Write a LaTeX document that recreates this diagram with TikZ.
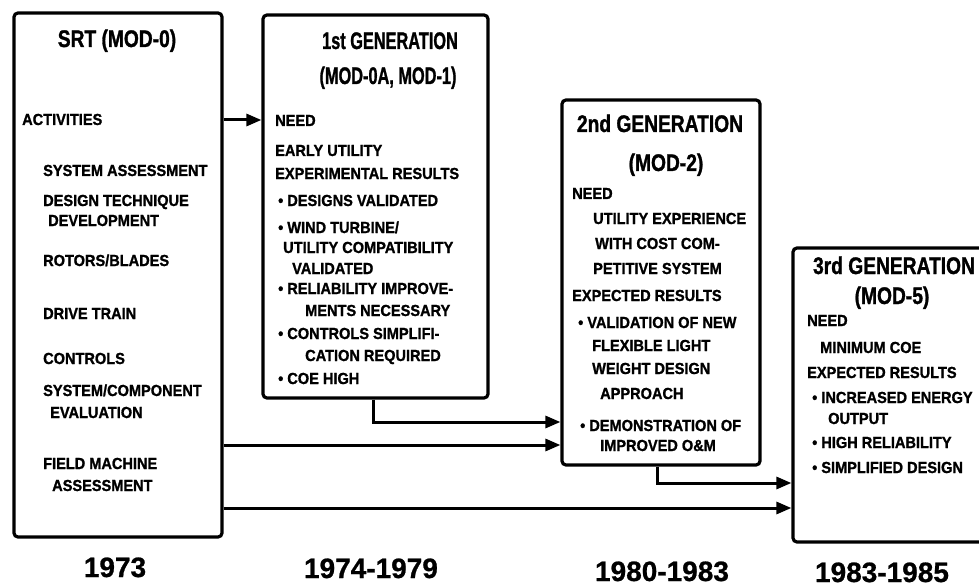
\documentclass[tikz,border=0pt]{standalone}
\usepackage{fontspec}
\setmainfont{Liberation Sans}[FakeStretch=0.91, BoldFeatures={FakeBold=1.2}]
\newfontfamily\titlefont{Liberation Sans}[FakeStretch=0.8, BoldFeatures={FakeBold=1.2}]
\newfontfamily\yearfont{Liberation Sans}[BoldFeatures={FakeBold=0.8}]
\usetikzlibrary{arrows.meta}
\begin{document}
\begin{tikzpicture}[x=1pt,y=-1pt,
  box/.style={draw, line width=3.2pt, rounded corners=4pt, inner sep=0pt},
  ln/.style={anchor=base west, inner sep=0pt, font=\fontsize{16}{18}\selectfont\bfseries},
  ttl/.style={anchor=base, inner sep=0pt, font=\titlefont\fontsize{24}{26}\selectfont\bfseries},
  yr/.style={anchor=base, inner sep=0pt, font=\yearfont\fontsize{28}{30}\selectfont\bfseries},
  arr/.style={line width=3pt, -{Triangle[length=15pt,width=12pt]}}]
\useasboundingbox (0,0) rectangle (979,588);
% boxes
\node[box, minimum width=208pt, minimum height=524pt] (srt) at (118,275) {};
\node[box, minimum width=225pt, minimum height=383pt] (g1) at (375.5,206.5) {};
\node[box, minimum width=198pt, minimum height=365pt] (g2) at (661,282.5) {};
\node[box, minimum width=197pt, minimum height=294pt] (g3) at (891.5,395) {};
% SRT
\node[ttl] (st) at (117,47) {SRT (MOD-0)};
\node[ln] (s1) at (22,125) {ACTIVITIES};
\node[ln] (s2) at (43,176) {SYSTEM ASSESSMENT};
\node[ln] (s3) at (43,206) {DESIGN TECHNIQUE};
\node[ln] (s4) at (48,226) {DEVELOPMENT};
\node[ln] (s5) at (43,266) {ROTORS/BLADES};
\node[ln] (s6) at (43,319) {DRIVE TRAIN};
\node[ln] (s7) at (43,364) {CONTROLS};
\node[ln] (s8) at (43,396) {SYSTEM/COMPONENT};
\node[ln] (s9) at (50,418) {EVALUATION};
\node[ln] (s10) at (43,469) {FIELD MACHINE};
\node[ln] (s11) at (52,491) {ASSESSMENT};
% 1st generation
\node[ttl] (at1) at (390,49) {\scalebox{0.85}[1]{1st GENERATION}};
\node[ttl] (at2) at (388,84) {\scalebox{0.85}[1]{(MOD-0A, MOD-1)}};
\node[ln] (a1) at (275,126) {NEED};
\node[ln] (a2) at (275,156) {EARLY UTILITY};
\node[ln] (a3) at (275,179) {EXPERIMENTAL RESULTS};
\node[ln] (a4) at (278,206) {\textbullet\ DESIGNS VALIDATED};
\node[ln] (a5) at (278,233) {\textbullet\ WIND TURBINE/};
\node[ln] (a6) at (283,253) {UTILITY COMPATIBILITY};
\node[ln] (a7) at (292,274) {VALIDATED};
\node[ln] (a8) at (278,294) {\textbullet\ RELIABILITY IMPROVE-};
\node[ln] (a9) at (305,316) {MENTS NECESSARY};
\node[ln] (a10) at (278,339) {\textbullet\ CONTROLS SIMPLIFI-};
\node[ln] (a11) at (305,361) {CATION REQUIRED};
\node[ln] (a12) at (278,384) {\textbullet\ COE HIGH};
% 2nd generation
\node[ttl] (bt1) at (660,132) {2nd GENERATION};
\node[ttl] (bt2) at (666,171) {(MOD-2)};
\node[ln] (b1) at (572,199) {NEED};
\node[ln] (b2) at (593,224) {UTILITY EXPERIENCE};
\node[ln] (b3) at (595,249) {WITH COST COM-};
\node[ln] (b4) at (593,274) {PETITIVE SYSTEM};
\node[ln] (b5) at (572,301) {EXPECTED RESULTS};
\node[ln] (b6) at (578,328) {\textbullet\ VALIDATION OF NEW};
\node[ln] (b7) at (592,351) {FLEXIBLE LIGHT};
\node[ln] (b8) at (592,374) {WEIGHT DESIGN};
\node[ln] (b9) at (600,399) {APPROACH};
\node[ln] (b10) at (580,431) {\textbullet\ DEMONSTRATION OF};
\node[ln] (b11) at (600,451) {IMPROVED O\&M};
% 3rd generation
\node[ttl] (ct1) at (894,274) {3rd GENERATION};
\node[ttl] (ct2) at (892,304) {(MOD-5)};
\node[ln] (c1) at (807,326) {NEED};
\node[ln] (c2) at (820,353) {MINIMUM COE};
\node[ln] (c3) at (807,378) {EXPECTED RESULTS};
\node[ln] (c4) at (812,403) {\textbullet\ INCREASED ENERGY};
\node[ln] (c5) at (828,424) {OUTPUT};
\node[ln] (c6) at (812,448) {\textbullet\ HIGH RELIABILITY};
\node[ln] (c7) at (812,473) {\textbullet\ SIMPLIFIED DESIGN};
% years
\node[yr] (y1) at (115,577) {1973};
\node[yr] (y2) at (371,578) {1974-1979};
\node[yr] (y3) at (662,581) {1980-1983};
\node[yr] (y4) at (882,582) {1983-1985};
% connectors
\draw[arr] (srt.east |- 0,120) -- (g1.west |- 0,120);
\draw[arr] (g1.south -| 373,0) |- (g2.west |- 0,422);
\draw[arr] (srt.east |- 0,445) -- (g2.west |- 0,445);
\draw[arr] (g2.south -| 657,0) |- (g3.west |- 0,483);
\draw[arr] (srt.east |- 0,508) -- (g3.west |- 0,508);
\end{tikzpicture}
\end{document}
